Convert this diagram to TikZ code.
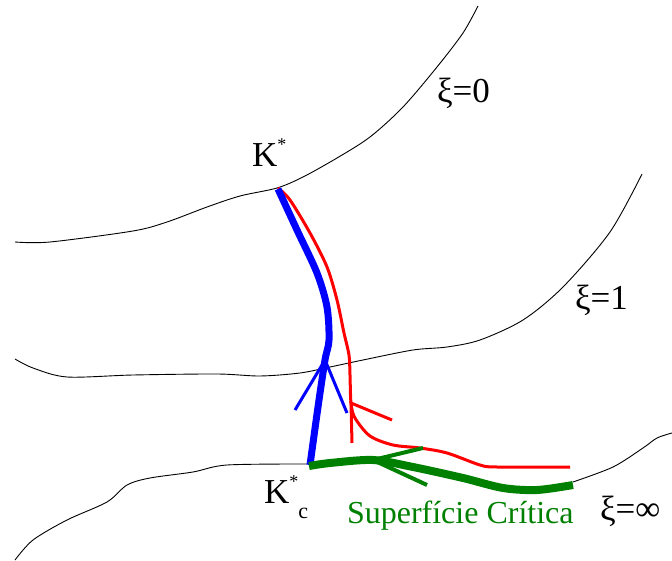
\documentclass[tikz,border=0pt]{standalone}
\usepackage{fontspec}
\setmainfont{Liberation Serif}
\definecolor{dgreen}{RGB}{0,128,0}
\tikzset{
  level/.style={black, line width=0.9pt},
  bluethick/.style={blue, line width=7pt},
  bluethin/.style={blue, line width=3pt},
  redline/.style={red, line width=3pt},
  greenthick/.style={dgreen, line width=8pt},
  greenthin/.style={dgreen, line width=4pt},
  lbl/.style={anchor=base west, inner sep=0pt, outer sep=0pt},
}
\begin{document}
\begin{tikzpicture}[x=1pt,y=-1pt]
\useasboundingbox (0,0) rectangle (672,561);
% level curves
\draw[level] plot[smooth] coordinates {(15,242) (50,242) (133,231) (167,222) (207,207) (240,196) (277,188) (303,177) (337,158) (370,137) (403,107) (437,67) (463,33) (478,6)};
\draw[level] plot[smooth] coordinates {(15,359) (33,368) (67,377) (133,375) (217,374) (260,376) (300,373) (330,367) (363,360) (413,350) (447,347) (480,340) (523,320) (563,287) (610,232) (642,174)};
\draw[level] plot[smooth] coordinates {(15,560) (33,540) (67,520) (107,502) (127,485) (150,478) (193,472) (227,465) (307,464)};
\draw[level] plot[smooth] coordinates {(573,482) (613,467) (643,448) (657,438) (672,433)};
% red flow
\draw[redline] plot[smooth] coordinates {(278,188) (290,200) (310,233) (327,267) (337,300) (344,333) (349,355) (350,375) (351,403) (355,418) (370,436) (393,445) (420,448) (447,453) (480,465) (497,467) (570,467)};
\coordinate (rt) at (351,403);
\coordinate (rb1) at (352,443);
\coordinate (rb2) at (392,420);
\draw[redline] (rb1) -- (rt) -- (rb2);
% blue flow
\draw[bluethick] plot[smooth] coordinates {(278,189) (297,230) (317,273) (327,307) (329,340) (325,360) (318,407) (310,465)};
\coordinate (bt) at (325,360);
\coordinate (bb1) at (295,410);
\coordinate (bb2) at (347,413);
\draw[bluethin] (bb1) -- (bt) -- (bb2);
% green critical surface
\draw[greenthick] plot[smooth] coordinates {(309,466) (330,463) (373,460) (413,467) (463,478) (503,488) (537,490) (573,485)};
\coordinate (gt) at (373,460);
\coordinate (gb1) at (423,448);
\coordinate (gb2) at (427,485);
\draw[greenthin] (gb1) -- (gt) -- (gb2);
% labels
\node[lbl] (kstar) at (252,167) {\fontsize{35}{40}\selectfont K\raisebox{16pt}{\fontsize{18}{18}\selectfont *}};
\node[lbl] (kc) at (264,503) {\fontsize{35}{40}\selectfont K\raisebox{16pt}{\fontsize{18}{18}\selectfont *}\raisebox{-15pt}{\fontsize{22}{22}\selectfont c}};
\node[lbl] (x0) at (437,103) {\fontsize{35}{40}\selectfont ξ=0};
\node[lbl] (x1) at (575,309) {\fontsize{35}{40}\selectfont ξ=1};
\node[lbl] (xinf) at (600,520) {\fontsize{35}{40}\selectfont ξ=∞};
\node[lbl, text=dgreen] (sc) at (347,523) {\fontsize{32}{36}\selectfont Superfície Crítica};
\end{tikzpicture}
\end{document}
